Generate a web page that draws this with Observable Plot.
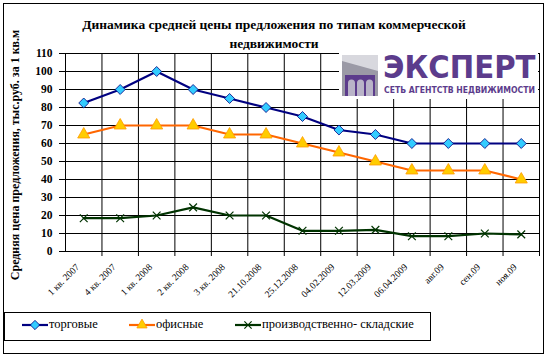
<!DOCTYPE html>
<html><head><meta charset="utf-8">
<script src="https://cdn.jsdelivr.net/npm/d3@7"></script>
<script src="https://cdn.jsdelivr.net/npm/@observablehq/plot@0.6"></script>
<style>
body{margin:0;background:#fff;}
#wrap, #wrap div, #wrap span{font-family:"Liberation Serif","DejaVu Serif","Times New Roman",serif;}
#wrap{position:relative;width:548px;height:359px;overflow:hidden;}
#border{position:absolute;left:3px;top:3px;width:541px;height:351px;border:1px solid #000;box-sizing:border-box;}
#title{position:absolute;left:0;top:15px;width:548px;text-align:center;font-weight:bold;font-size:13.5px;line-height:19px;}
#ylab{position:absolute;left:15px;top:155px;transform:translate(-50%,-50%) rotate(-90deg);white-space:nowrap;font-weight:bold;font-size:12px;}
#legend{position:absolute;left:4px;top:312px;width:427px;height:29px;border:1px solid #000;box-sizing:border-box;font-size:12.5px;}
.li{position:absolute;top:4px;display:flex;align-items:center;white-space:nowrap;}
#logo{position:absolute;left:339px;top:46px;}
#chart{position:absolute;left:0;top:0;}
</style></head><body><div id="wrap">
<div id="chart"></div>
<div id="border"></div>
<div id="title">Динамика средней цены предложения по типам коммерческой<br>недвижимости</div>
<div id="ylab">Средняя цена предложения, тыс.руб. за 1 кв.м</div>
<div id="logo"></div>
<div id="legend"></div>
</div>
<script>
const categories = ["1 кв. 2007","4 кв. 2007","1 кв. 2008","2 кв. 2008","3 кв. 2008","21.10.2008","25.12.2008","04.02.2009","12.03.2009","06.04.2009","авг.09","сен.09","ноя.09"];
const seriesNames = ["торговые","офисные","производственно- складские"];
const trade = [82.5,90,100,90,85,80,75,67.5,65,60,60,60,60];
const office = [65,70,70,70,65,65,60,55,50,45,45,45,40];
const industrial = [18.5,18.5,20,24.5,20,20,11.5,11.5,12,8.5,8.5,10,9.5];
const yTicks = [0,10,20,30,40,50,60,70,80,90,100,110];

const colors = {line:["#000080","#ff6600","#003300"], fill:["#33ccff","#ffcc00","none"], mstroke:["#000080","#ff9900","#003300"], symbol:["diamond2","triangle","times"], r:[4.5,4.5,3.6]};
const allSeries = [trade, office, industrial];
const data = [];
allSeries.forEach((vals, s) => vals.forEach((v, i) => data.push({i, category: categories[i], value: v, series: seriesNames[s], s})));
const n = categories.length;
const boundaries = d3.range(n).map(i => i + 0.5).slice(0, n - 1);
const serif = "'Liberation Serif','DejaVu Serif','Times New Roman',serif";

const marks = [
  Plot.gridY({ticks: yTicks, stroke: "#000", strokeOpacity: 1, strokeWidth: 1}),
  Plot.gridX({ticks: boundaries, stroke: "#000", strokeOpacity: 1, strokeWidth: 1}),
  Plot.frame({stroke: "#000"}),
  Plot.axisY({ticks: yTicks, tickSize: 6, tickPadding: 7, fontWeight: "bold", fontSize: 11.5, fontFamily: serif, label: null}),
  Plot.axisX({ticks: boundaries.concat([n - 0.5]), tickSize: 5, tickFormat: () => "", label: null}),
  Plot.axisX({ticks: d3.range(n), tickSize: 0, tickPadding: 14, dx: -6, tickRotate: -45, tickFormat: i => categories[i], fontSize: 9.5, fontFamily: serif, label: null})
];
seriesNames.forEach((name, s) => {
  const d = data.filter(r => r.s === s);
  marks.push(Plot.line(d, {x: "i", y: "value", stroke: colors.line[s], strokeWidth: 2.2}));
  marks.push(Plot.dot(d, {x: "i", y: "value", symbol: () => colors.symbol[s], r: colors.r[s], fill: colors.fill[s], stroke: colors.mstroke[s], strokeWidth: s === 2 ? 1.2 : 0.8}));
});

const plot = Plot.plot({
  width: 548, height: 359,
  marginLeft: 65, marginRight: 9, marginTop: 53, marginBottom: 108,
  x: {type: "linear", domain: [-0.5, n - 0.5]},
  y: {domain: [0, 110]},
  symbol: {type: "identity"},
  style: {fontFamily: serif, background: "transparent", color: "#000"},
  marks
});
document.getElementById("chart").appendChild(plot);

// legend
const leg = document.getElementById("legend");
const legX = [16, 123, 229];
seriesNames.forEach((name, s) => {
  const item = document.createElement("div");
  item.className = "li";
  item.style.left = legX[s] + "px";
  const sym = d3.symbol(s === 0 ? d3.symbolDiamond2 : s === 1 ? d3.symbolTriangle : d3.symbolTimes, s === 0 ? 55 : s === 1 ? 45 : 36)();
  item.innerHTML = `<svg width="28" height="14"><line x1="1" y1="7" x2="27" y2="7" stroke="${colors.line[s]}" stroke-width="2.2"/><path d="${sym}" transform="translate(14,7)" fill="${colors.fill[s]}" stroke="${colors.mstroke[s]}" stroke-width="${s===2?1.2:0.8}"/></svg><span>${name}</span>`;
  leg.appendChild(item);
});

// logo
document.getElementById("logo").innerHTML = `<svg width="202" height="54">
<rect x="0" y="6" width="199" height="47" fill="#fff"/>
<rect x="3" y="9" width="36" height="41" fill="#9b9aa6"/>
<polygon points="3,9 39,9 39,25 3,15" fill="#d8d8de"/>
<rect x="6" y="29" width="30" height="21" fill="#5c3c8c"/>
<path d="M9,50 V37 a3.5,3.5 0 0 1 7,0 V50 Z M18,50 V37 a3.5,3.5 0 0 1 7,0 V50 Z M27,50 V37 a3.5,3.5 0 0 1 7,0 V50 Z" fill="#b9b4c8"/>
<g transform="translate(44,32) scale(1.25,1.35)"><text x="0" y="0" font-family="'DejaVu Sans',sans-serif" font-weight="bold" font-size="24" fill="#5c3c8c" textLength="122" lengthAdjust="spacingAndGlyphs">ЭКСПЕРТ</text></g>
<text x="45" y="47" font-family="'DejaVu Sans',sans-serif" font-weight="bold" font-size="8" fill="#5c3c8c" textLength="151" lengthAdjust="spacingAndGlyphs">СЕТЬ АГЕНТСТВ НЕДВИЖИМОСТИ</text>
</svg>`;
</script>
</body></html>
